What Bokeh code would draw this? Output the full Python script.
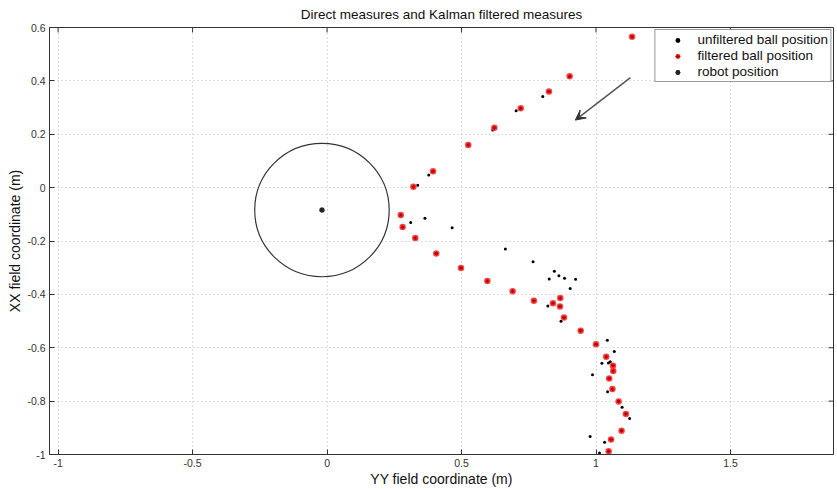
from bokeh.plotting import figure
from bokeh.models import (FixedTicker, Legend, LegendItem, Arrow, VeeHead, Range1d)
from bokeh.embed import file_html
from bokeh.resources import INLINE

# ---- data ----
filtered_y = [1.134, 0.902, 0.825, 0.720, 0.622, 0.525, 0.394, 0.321, 0.274, 0.281,
              0.328, 0.406, 0.498, 0.596, 0.690, 0.769, 0.840, 0.867, 0.866, 0.881,
              0.943, 1.000, 1.038, 1.063, 1.064, 1.049, 1.061, 1.084, 1.111, 1.095,
              1.056, 1.047]
filtered_x = [0.565, 0.417, 0.360, 0.297, 0.224, 0.160, 0.061, 0.003, -0.103, -0.148,
              -0.189, -0.247, -0.301, -0.350, -0.388, -0.424, -0.433, -0.414, -0.445, -0.487,
              -0.536, -0.587, -0.634, -0.667, -0.687, -0.715, -0.755, -0.801, -0.848, -0.911,
              -0.944, -0.988]

unfiltered_y = [0.802, 0.703, 0.616, 0.378, 0.337, 0.311, 0.364, 0.465, 0.663, 0.766,
                0.845, 0.826, 0.862, 0.883, 0.924, 0.904, 0.821, 0.870, 1.042, 1.068,
                1.053, 1.046, 1.022, 0.987, 1.043, 1.097, 1.125, 0.978, 1.032, 1.013]
unfiltered_x = [0.341, 0.288, 0.216, 0.047, 0.009, -0.131, -0.115, -0.150, -0.230, -0.278,
                -0.313, -0.342, -0.330, -0.340, -0.343, -0.378, -0.444, -0.501, -0.572, -0.614,
                -0.652, -0.657, -0.658, -0.701, -0.765, -0.823, -0.865, -0.933, -0.954, -0.994]

robot_y = [-0.019]
robot_x = [-0.084]
robot_radius = 0.25

arrow_start = (1.128, 0.412)
arrow_end = (0.923, 0.253)

x_ticks = [-1, -0.5, 0, 0.5, 1, 1.5]
x_tick_labels = ["-1", "-0.5", "0", "0.5", "1", "1.5"]
y_ticks = [-1, -0.8, -0.6, -0.4, -0.2, 0, 0.2, 0.4, 0.6]
y_tick_labels = ["-1", "-0.8", "-0.6", "-0.4", "-0.2", "0", "0.2", "0.4", "0.6"]

x_lim = (-1.032, 1.883)
y_lim = (-1.0, 0.6)

title = "Direct measures and Kalman filtered measures"
x_label = "YY field coordinate (m)"
y_label = "XX field coordinate (m)"

FONT = "Liberation Sans"

p = figure(width=837, height=489, output_backend="svg", toolbar_location=None,
           x_range=Range1d(*x_lim), y_range=Range1d(*y_lim),
           min_border_left=49, min_border_right=4, min_border_top=27, min_border_bottom=10)

p.title.text = title
p.title.align = "center"
p.title.vertical_align = "middle"
p.title.text_font = FONT
p.title.text_font_size = "13.5px"
p.title.text_font_style = "normal"
p.title.text_color = "#111111"
p.title.standoff = 10

p.outline_line_color = "#333333"
p.background_fill_color = "white"
p.border_fill_color = "white"

for ax, ticks, labels, lab in ((p.xaxis[0], x_ticks, x_tick_labels, x_label),
                               (p.yaxis[0], y_ticks, y_tick_labels, y_label)):
    ax.ticker = FixedTicker(ticks=ticks)
    ax.major_label_overrides = {t: l for t, l in zip(ticks, labels)}
    ax.axis_label = lab
    ax.axis_label_text_font = FONT
    ax.axis_label_text_font_size = "14px"
    ax.axis_label_text_font_style = "normal"
    ax.axis_label_text_color = "#111111"
    ax.axis_label_standoff = 1
    ax.major_label_text_font = FONT
    ax.major_label_text_font_size = "10.5px"
    ax.major_label_text_color = "#333333"
    ax.major_label_standoff = 4
    ax.major_tick_in = 5
    ax.major_tick_out = 0
    ax.major_tick_line_color = "#333333"
    ax.minor_tick_line_color = None
    ax.axis_line_color = "#333333"

for g, ticks in ((p.xgrid[0], x_ticks), (p.ygrid[0], y_ticks)):
    g.ticker = FixedTicker(ticks=ticks)
    g.grid_line_color = "#bdbdbd"
    g.grid_line_dash = "1 3"
    g.grid_line_width = 1

# box ticks along the top and right edges (matlab "box on")
tick_len_x = 5 / 269.0
tick_len_y = 5 / 268.8
p.segment(x0=x_ticks, y0=[y_lim[1]] * len(x_ticks), x1=x_ticks,
          y1=[y_lim[1] - tick_len_y] * len(x_ticks), line_color="#333333", line_width=1)
p.segment(x0=[x_lim[1]] * len(y_ticks), y0=y_ticks, x1=[x_lim[1] - tick_len_x] * len(y_ticks),
          y1=y_ticks, line_color="#333333", line_width=1)

# robot circle
p.ellipse(x=robot_y, y=robot_x, width=2 * robot_radius, height=2 * robot_radius,
          fill_color=None, line_color="#333333", line_width=1.2)

r_unf = p.scatter(unfiltered_y, unfiltered_x, marker="circle", size=3,
                  fill_color="black", line_color=None)
r_f1 = p.scatter(filtered_y, filtered_x, marker="circle", size=6.5,
                 fill_color="#ff3030", line_color=None, fill_alpha=0.9)
r_f2 = p.scatter(filtered_y, filtered_x, marker="asterisk", size=4,
                 line_color="#b00000", line_width=1)
r_r1 = p.scatter(robot_y, robot_x, marker="circle", size=4, fill_color="#222222", line_color=None)
r_r2 = p.scatter(robot_y, robot_x, marker="asterisk", size=6, line_color="#222222", line_width=1.2)

p.add_layout(Arrow(end=VeeHead(size=10, fill_color="#333333", line_color="#333333", line_width=1),
                   x_start=arrow_start[0], y_start=arrow_start[1],
                   x_end=arrow_end[0], y_end=arrow_end[1],
                   line_color="#555555", line_width=1.5))

legend = Legend(items=[LegendItem(label="unfiltered ball position", renderers=[r_unf]),
                       LegendItem(label="filtered ball position", renderers=[r_f1, r_f2]),
                       LegendItem(label="robot position", renderers=[r_r1, r_r2])],
                location="top_right", padding=2, spacing=1, margin=2,
                glyph_width=40, glyph_height=12, label_height=14, label_standoff=0,
                label_text_font=FONT, label_text_font_size="13.5px", label_text_color="#111111",
                border_line_color="#333333", background_fill_color="white", background_fill_alpha=1)
p.add_layout(legend, "center")

open("out.html", "w").write(file_html(p, INLINE))
